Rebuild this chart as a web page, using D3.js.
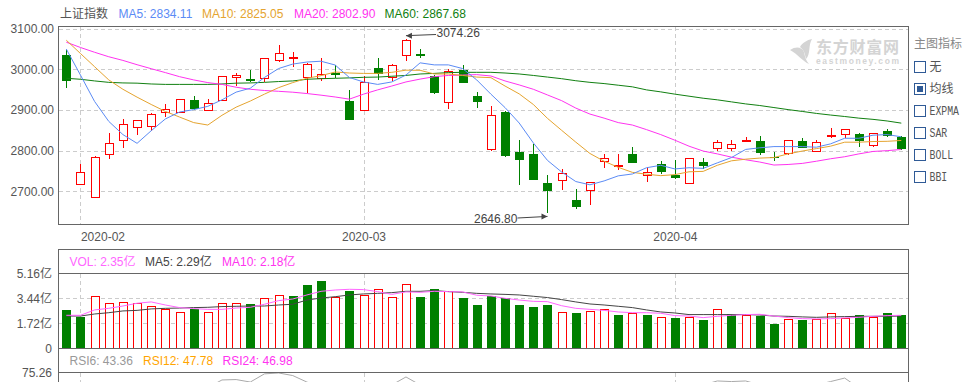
<!DOCTYPE html>
<html>
<head>
<meta charset="utf-8">
<title>上证指数</title>
<script src="https://cdn.jsdelivr.net/npm/d3@7/dist/d3.min.js"></script>
<style>
  html, body { margin: 0; padding: 0; background: #fff; overflow: hidden; }
  svg { display: block; }
  text { font-family: "Liberation Sans", "Noto Sans CJK SC", sans-serif; font-size: 12px; }
  .axis path, .axis line { display: none; }
  .axis text { fill: #555; font-size: 12px; }
  .grid { stroke: #ccc; stroke-dasharray: 4 3; shape-rendering: crispEdges; }
  .frame { stroke: #666; fill: none; shape-rendering: crispEdges; }
</style>
</head>
<body>
<div id="chart"></div>
<script>
var dates = ['2020-01-23',
  '2020-02-03','2020-02-04','2020-02-05','2020-02-06','2020-02-07','2020-02-10','2020-02-11','2020-02-12','2020-02-13','2020-02-14',
  '2020-02-17','2020-02-18','2020-02-19','2020-02-20','2020-02-21','2020-02-24','2020-02-25','2020-02-26','2020-02-27','2020-02-28',
  '2020-03-02','2020-03-03','2020-03-04','2020-03-05','2020-03-06','2020-03-09','2020-03-10','2020-03-11','2020-03-12','2020-03-13',
  '2020-03-16','2020-03-17','2020-03-18','2020-03-19','2020-03-20','2020-03-23','2020-03-24','2020-03-25','2020-03-26','2020-03-27',
  '2020-03-30','2020-03-31','2020-04-01','2020-04-02','2020-04-03','2020-04-07','2020-04-08','2020-04-09','2020-04-10','2020-04-13',
  '2020-04-14','2020-04-15','2020-04-16','2020-04-17','2020-04-20','2020-04-21','2020-04-22','2020-04-23','2020-04-24'];

var opens = [3037.5,2719,2687,2792,2826.5,2858,2861,2895,2895,2927.5,
  2900,2924,2980,2979,2980,3022,3027,2980,2978,2993.5,
  2925,2900,3005,2980,3034,3039,2985,2919,3000,2937,
  2804.5,2898,2798,2793,2722,2729,2680,2704,2775,2763,
  2795,2741,2769,2743,2721,2775,2807,2807,2825,2826.5,
  2786.5,2794,2827,2799,2835.4,2841,2843.6,2813.4,2851,2837];
var closes = [2974,2748,2785,2819,2866,2875,2890,2902,2927,2906,
  2917,2983,2985,2975,3029,3039,3030,3012,2989,2989,
  2879.4,2970,2990,3010,3071,3033,2943,2995,2967,2923,
  2887,2789,2779,2728,2703.5,2746,2662,2724,2782.5,2765,
  2772,2748,2750,2735,2782.5,2764.6,2821,2817,2826.5,2796,
  2784,2826.5,2810,2821.6,2839,2853.4,2825.6,2843.6,2838.7,2808.5];
var highs = [3047,2768,2788,2844,2879,2875,2892.5,2915,2927,2935,
  2927.5,2983,2990,2998,3029,3059.5,3042,3016,3027,3010.6,
  2949.5,2984,3027,3013,3074.26,3051,2985,3000,3010.6,2944.6,
  2910,2898,2827,2817.5,2739,2754,2705,2724,2790.6,2790.6,
  2808,2760.5,2773.5,2776,2782.5,2783,2825,2825,2834,2835,
  2796,2826.5,2830,2825,2856.6,2853.4,2843.6,2843.6,2854,2837];
var lows = [2955,2719,2687,2779,2806,2838,2849,2882,2895,2900.6,
  2900,2924,2960,2968,2968,3018,3006.5,2943,2971.5,2979,
  2878,2900,2974,2971.5,3021,3028,2940.5,2903,2967,2906,
  2799,2784,2716,2728,2646.8,2704,2657,2667,2757,2752,
  2772,2723,2742,2730,2721,2754,2800,2800,2821,2789,
  2774,2789,2810,2796,2830.5,2832,2808,2808,2834.6,2801];

var ma5 = [3050,2986,2921,2872,2839.5,2818,2849,2878,2895,2901,
  2909,2925,2944,2953.6,2980,3002,3013,3018,3020,3010.6,
  2980,2969,2963,2969,2986,3016,3011,3011,3002,2974,
  2939,2906,2868,2819,2776,2747.5,2724,2716,2725.5,2738,
  2742.6,2758,2764,2755,2758,2756.4,2770,2783,2803,2807,
  2810,2810,2810,2808.5,2816.7,2830.5,2830.5,2838,2839.5,2834.11];
var ma10 = [3071.7,3039,3006.5,2974,2951,2931.6,2913.6,2896.5,2882.7,2869,
  2863,2887,2907,2922,2939,2955,2967.4,2978,2984.5,2993.5,
  2991,2990,2990,2992.7,2998,2997.6,2988.6,2988.6,2985,2981,
  2979.6,2959,2939.7,2913.6,2879.4,2850,2821,2793,2774,2759,
  2746.6,2742,2738.5,2741,2748,2749,2764,2775,2779,2781.7,
  2783,2792,2799,2805,2811,2820.8,2820.8,2822.4,2823,2825.05];
var ma20 = [3066.8,3053.8,3042,3031,3022,3011.4,3001.6,2992,2982,2974,
  2967.4,2963,2956,2951,2948,2946,2943.8,2940.5,2936.5,2932,
  2926.7,2939,2949.5,2959,2969,2976,2982,2985,2986,2987,
  2983.7,2971.5,2961.7,2951,2937,2923,2904.7,2890,2880,2869,
  2863,2851.7,2839.5,2825.7,2811,2799,2792,2784,2777.6,2772,
  2764.6,2766,2768.6,2774,2780,2785,2792,2798,2800,2802.9];
var ma60 = [2978,2975.6,2971.5,2968,2966.6,2966,2964,2963,2963,2963,
  2963,2964,2966,2966.6,2968,2970,2971.5,2975.6,2977,2978,
  2979,2980.4,2981,2983,2985,2988.6,2990,2992,2992.7,2992.7,
  2992.7,2991,2988.6,2985,2981,2977,2972,2968,2965,2961,
  2957,2949.5,2944.6,2939,2934,2929,2925,2920,2915,2911,
  2906,2901,2896.5,2891.6,2887.6,2884,2880,2877,2873,2867.68];

var volumes = [2.71,2.22,3.58,3.10,3.16,3.10,2.89,2.68,2.48,2.75,
  2.48,3.10,3.10,3.12,3.44,3.65,3.67,4.43,4.70,3.51,
  4.01,3.65,4.06,3.51,4.40,3.60,4.15,3.92,3.53,3.05,
  3.65,3.51,3.05,2.91,3.05,2.48,2.50,2.55,2.68,2.36,
  2.41,2.36,2.13,2.16,2.13,2.02,2.68,2.43,2.27,2.32,
  1.74,1.99,2.04,1.99,2.41,2.06,2.36,2.13,2.50,2.36];
// volume colours do not always follow the candles in the source, so they get their own list
var volumeUp = [0,0,1,1,1,1,1,1,1,0,
  1,1,1,0,1,1,0,0,0,1,
  0,1,1,1,1,0,0,1,0,0,
  0,0,0,0,0,1,0,1,1,0,
  1,0,1,0,1,0,1,0,1,0,
  0,1,0,1,1,1,0,1,0,0];
var volMa5 = [2.22,2.22,2.36,2.45,2.57,2.61,2.71,2.75,2.77,2.80,
  2.82,2.87,2.89,2.91,2.91,2.98,3.03,3.32,3.46,3.55,
  3.67,3.74,3.78,3.83,3.92,3.92,3.97,3.90,3.85,3.78,
  3.74,3.71,3.67,3.58,3.49,3.35,3.19,3.05,2.98,2.89,
  2.80,2.64,2.50,2.43,2.32,2.32,2.32,2.32,2.32,2.29,
  2.22,2.20,2.16,2.13,2.16,2.18,2.20,2.20,2.20,2.22];
var volMa10 = [2.27,2.27,2.64,2.75,2.91,3.10,3.19,2.98,2.80,2.73,
  2.68,2.68,2.77,2.82,3.03,3.28,3.39,3.67,3.92,4.01,
  4.06,4.04,3.90,3.71,3.88,3.85,3.92,3.90,3.88,3.65,
  3.60,3.44,3.32,3.23,3.21,2.93,2.75,2.68,2.61,2.50,
  2.45,2.45,2.41,2.25,2.22,2.11,2.20,2.27,2.32,2.34,
  2.22,2.11,2.04,2.02,2.04,2.09,2.13,2.20,2.25,2.27];

// only the tops of the RSI6 curve show above the bottom edge of the picture
var rsi6 = [null,null,null,null,null,null,null,null,null,null,
  60,67.6,68,65.5,73.7,74.6,72,65.5,60,null,
  null,null,null,62.6,70.6,62.6,null,null,null,null,
  null,null,null,null,null,null,null,null,null,null,
  null,null,null,null,null,62.6,66.6,66,66.6,62.6,
  null,null,null,62.6,66,69.5,59.6,null,null,null];

var priceTicks = [2700,2800,2900,3000,3100];
var volumeTicks = [0,1.72,3.44,5.16];
var monthTicks = ['2020-02-03','2020-03-02','2020-04-01'];
var indicators = ['无','均线','EXPMA','SAR','BOLL','BBI'];
var activeIndicator = '均线';

var width = 975, height = 382;
var left = 58.5, right = 908.5;
var red = '#ff0000', green = '#008000';
var blue = '#5b8bf5', orange = '#e5a42f', magenta = '#ff33f0', darkGreen = '#118011';

var svg = d3.select('#chart').append('svg')
  .attr('width', width)
  .attr('height', height);

var x = d3.scalePoint().domain(dates).range([66.3, 901.3]);
var y = d3.scaleLinear().domain([2700, 3100]).range([191.3, 28.7]);
var yVol = d3.scaleLinear().domain([0, 5.16]).range([348.3, 273.3]);
var yRsi = d3.scaleLinear().domain([75.26, 25.26]).range([372.3, 422.3]);

function snap(v) { return Math.round(v) + 0.5; }

// grid
function verticalGrid(top, bottom) {
  svg.append('g').selectAll('line')
    .data(monthTicks)
    .enter().append('line')
    .attr('class', 'grid')
    .attr('x1', function(d) { return snap(x(d)); })
    .attr('x2', function(d) { return snap(x(d)); })
    .attr('y1', top)
    .attr('y2', bottom);
}
verticalGrid(27, 225);
verticalGrid(274, 348);
verticalGrid(373, 382);

svg.append('g').selectAll('line')
  .data(priceTicks)
  .enter().append('line')
  .attr('class', 'grid')
  .attr('x1', left).attr('x2', right)
  .attr('y1', function(d) { return snap(y(d)); })
  .attr('y2', function(d) { return snap(y(d)); });

svg.append('g').selectAll('line')
  .data([1.72, 3.44])
  .enter().append('line')
  .attr('class', 'grid')
  .attr('x1', left).attr('x2', right)
  .attr('y1', function(d) { return snap(yVol(d)); })
  .attr('y2', function(d) { return snap(yVol(d)); });

// axes
svg.append('g')
  .attr('class', 'axis')
  .attr('transform', 'translate(58,0)')
  .call(d3.axisLeft(y).tickValues(priceTicks).tickSize(0).tickPadding(4).tickFormat(d3.format('.2f')));

svg.append('g')
  .attr('class', 'axis')
  .attr('transform', 'translate(0,225)')
  .call(d3.axisBottom(x).tickValues(monthTicks).tickSize(0).tickPadding(7).tickFormat(function(d) { return d.slice(0, 7); }))
  .selectAll('text')
  .attr('dx', function(d, i) { return i === 0 ? 22 : 0; });

svg.append('g')
  .attr('class', 'axis')
  .attr('transform', 'translate(52,0)')
  .call(d3.axisLeft(yVol).tickValues(volumeTicks).tickSize(0).tickPadding(0).tickFormat(function(d) {
    return d === 0 ? '0' : d.toFixed(2) + '亿';
  }));

svg.append('g')
  .attr('class', 'axis')
  .attr('transform', 'translate(52,0)')
  .call(d3.axisLeft(yRsi).tickValues([75.26]).tickSize(0).tickPadding(0).tickFormat(d3.format('.2f')));

// watermark
var mark = svg.append('g').attr('fill', '#d4d4d4');
mark.append('path').attr('d', 'M790,50C796,46 802,47 804,52C805,57 806,61 809,64C802,61 798,54 790,50Z');
mark.append('path').attr('d', 'M800,47C802,43 807,40 812,39C808,45 811,54 806,59C805,54 804,50 800,47Z');
mark.append('text')
  .attr('x', 816).attr('y', 52.8)
  .attr('textLength', 83)
  .style('font-size', '16px').style('font-weight', 'bold')
  .text('东方财富网');
mark.append('text')
  .attr('x', 816).attr('y', 64)
  .attr('textLength', 83)
  .style('font-size', '8.5px').style('font-weight', 'bold')
  .text('eastmoney.com');

// candles
var candles = svg.append('g').selectAll('g')
  .data(dates)
  .enter().append('g')
  .attr('shape-rendering', 'crispEdges');

function isUp(i) { return closes[i] >= opens[i]; }

candles.append('line')
  .attr('x1', function(d) { return snap(x(d)); })
  .attr('x2', function(d) { return snap(x(d)); })
  .attr('y1', function(d, i) { return y(highs[i]); })
  .attr('y2', function(d, i) { return y(lows[i]); })
  .attr('stroke', function(d, i) { return isUp(i) ? red : green; });

candles.append('rect')
  .attr('x', function(d, i) { return isUp(i) ? snap(x(d) - 4) : Math.round(x(d) - 4); })
  .attr('width', function(d, i) { return isUp(i) ? 8 : 9; })
  .attr('y', function(d, i) { return snap(y(Math.max(opens[i], closes[i]))); })
  .attr('height', function(d, i) { return Math.max(1, Math.round(Math.abs(y(opens[i]) - y(closes[i])))); })
  .attr('fill', function(d, i) { return isUp(i) ? '#fff' : green; })
  .attr('stroke', function(d, i) { return isUp(i) ? red : 'none'; });

// moving averages
function drawLine(values, yScale, color) {
  var line = d3.line()
    .defined(function(d) { return d !== null; })
    .x(function(d, i) { return x(dates[i]); })
    .y(function(d) { return yScale(d); });
  svg.append('path')
    .datum(values)
    .attr('d', line)
    .attr('fill', 'none')
    .attr('stroke', color)
    .attr('stroke-width', 1);
}
drawLine(ma60, y, darkGreen);
drawLine(ma20, y, magenta);
drawLine(ma10, y, orange);
drawLine(ma5, y, blue);

// volume
svg.append('g').selectAll('rect')
  .data(dates)
  .enter().append('rect')
  .attr('shape-rendering', 'crispEdges')
  .attr('x', function(d, i) { return volumeUp[i] ? snap(x(d) - 4) : Math.round(x(d) - 4); })
  .attr('width', function(d, i) { return volumeUp[i] ? 8 : 9; })
  .attr('y', function(d, i) { return snap(yVol(volumes[i])); })
  .attr('height', function(d, i) { return yVol(0) - snap(yVol(volumes[i])); })
  .attr('fill', function(d, i) { return volumeUp[i] ? '#fff' : green; })
  .attr('stroke', function(d, i) { return volumeUp[i] ? red : 'none'; });

drawLine(volMa5, yVol, '#444');
drawLine(volMa10, yVol, '#ff66ff');
drawLine(rsi6, yRsi, '#aaa');

// frames
svg.append('rect').attr('class', 'frame')
  .attr('x', left).attr('y', 26.5)
  .attr('width', right - left).attr('height', 198);
svg.append('path').attr('class', 'frame')
  .attr('d', 'M' + left + ',' + height + 'V249.5H' + right + 'V' + height);
svg.selectAll('line.rule')
  .data([273.5, 348.5, 372.5])
  .enter().append('line')
  .attr('class', 'frame')
  .attr('x1', left).attr('x2', right)
  .attr('y1', function(d) { return d; })
  .attr('y2', function(d) { return d; });

// legends
function legend(items, baseline) {
  svg.append('g').selectAll('text')
    .data(items)
    .enter().append('text')
    .attr('x', function(d) { return d.x; })
    .attr('y', baseline)
    .attr('fill', function(d) { return d.color; })
    .text(function(d) { return d.label; });
}
legend([
  {x: 60, label: '上证指数', color: '#555'},
  {x: 118.5, label: 'MA5: 2834.11', color: blue},
  {x: 202, label: 'MA10: 2825.05', color: orange},
  {x: 294, label: 'MA20: 2802.90', color: magenta},
  {x: 384.5, label: 'MA60: 2867.68', color: darkGreen}
], 18);
legend([
  {x: 69.5, label: 'VOL: 2.35亿', color: '#ff66ff'},
  {x: 145, label: 'MA5: 2.29亿', color: '#444'},
  {x: 222, label: 'MA10: 2.18亿', color: '#ff33f0'}
], 266);
legend([
  {x: 69.5, label: 'RSI6: 43.36', color: '#999'},
  {x: 143, label: 'RSI12: 47.78', color: '#ffa500'},
  {x: 222.5, label: 'RSI24: 46.98', color: '#ff33f0'}
], 365);

// high and low callouts
function callout(i, label, textX, textY, tipOffset, startX, startY) {
  var tipX = x(dates[i]);
  var tipY = y(i === 24 ? highs[i] : lows[i]) + tipOffset;
  var dir = startX > tipX ? 1 : -1;
  svg.append('path')
    .attr('d', 'M' + startX + ',' + startY + 'L' + tipX + ',' + tipY)
    .attr('stroke', '#444').attr('fill', 'none');
  svg.append('path')
    .attr('d', 'M' + tipX + ',' + tipY + 'l' + (dir * 6) + ',-3v6z')
    .attr('fill', '#444');
  svg.append('text')
    .attr('x', textX).attr('y', textY)
    .attr('fill', '#444')
    .text(label);
}
callout(24, '3074.26', 436.5, 37, -3.5, 436, 34.5);
callout(34, '2646.80', 474, 222.5, 3.5, 517.5, 218);

// indicator picker
svg.append('text')
  .attr('x', 914).attr('y', 48)
  .attr('fill', '#888')
  .text('主图指标');

var rows = svg.append('g').selectAll('g')
  .data(indicators)
  .enter().append('g')
  .attr('transform', function(d, i) { return 'translate(914.5,' + (61 + i * 22) + ')'; });

rows.append('rect')
  .attr('width', 11).attr('height', 11)
  .attr('fill', '#fff')
  .attr('stroke', '#2f5a96')
  .attr('shape-rendering', 'crispEdges');

rows.filter(function(d) { return d === activeIndicator; })
  .append('rect')
  .attr('x', 2.5).attr('y', 2.5)
  .attr('width', 6).attr('height', 6)
  .attr('fill', '#2f5a96')
  .attr('shape-rendering', 'crispEdges');

var labels = rows.append('text')
  .attr('x', 15).attr('y', 10)
  .attr('fill', '#555')
  .text(function(d) { return d; });

// the latin names are in a narrow fixed-width face in the source
labels.filter(function(d) { return /[A-Z]/.test(d); })
  .attr('textLength', function(d) { return d.length * 5.9; })
  .attr('lengthAdjust', 'spacingAndGlyphs')
  .style('font-family', '"Liberation Mono", monospace')
  .style('font-size', '12px');
</script>
</body>
</html>
